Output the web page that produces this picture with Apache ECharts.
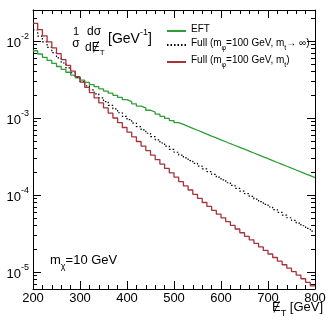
<!DOCTYPE html>
<html>
<head>
<meta charset="utf-8">
<script src="https://cdn.jsdelivr.net/npm/echarts@6/dist/echarts.min.js"></script>
<style>
html, body { margin: 0; padding: 0; background: #fff; }
#chart { width: 332px; height: 322px; }
</style>
</head>
<body>
<div id="chart"></div>
<script>
// bin edges of the MET histograms, 10 GeV bins from 200 to 800
const binEdges = []
for (let e = 200; e <= 800; e += 10) binEdges.push(e)

// 1/sigma dsigma/dMET per bin [GeV^-1]
const eftVals = [
    7.48e-3, 6.78e-3, 6.15e-3, 5.60e-3, 5.11e-3, 4.67e-3, 4.28e-3, 3.93e-3, 3.61e-3, 3.33e-3,
    3.11e-3, 2.91e-3, 2.72e-3, 2.55e-3, 2.39e-3, 2.24e-3, 2.10e-3, 1.97e-3, 1.85e-3, 1.73e-3,
    1.63e-3, 1.53e-3, 1.43e-3, 1.35e-3, 1.26e-3, 1.19e-3, 1.12e-3, 1.05e-3, 9.86e-4, 9.27e-4,
    8.73e-4, 8.24e-4, 7.78e-4, 7.35e-4, 6.93e-4, 6.55e-4, 6.18e-4, 5.83e-4, 5.51e-4, 5.20e-4,
    4.91e-4, 4.63e-4, 4.39e-4, 4.15e-4, 3.93e-4, 3.72e-4, 3.51e-4, 3.32e-4, 3.13e-4, 2.96e-4,
    2.80e-4, 2.64e-4, 2.50e-4, 2.36e-4, 2.23e-4, 2.11e-4, 1.99e-4, 1.88e-4, 1.78e-4, 1.68e-4
]
const fullInfVals = [
    1.39e-2, 1.16e-2, 9.77e-3, 8.28e-3, 7.05e-3, 6.03e-3, 5.18e-3, 4.47e-3, 3.87e-3, 3.37e-3,
    2.97e-3, 2.62e-3, 2.32e-3, 2.06e-3, 1.83e-3, 1.63e-3, 1.46e-3, 1.31e-3, 1.17e-3, 1.05e-3,
    9.51e-4, 8.57e-4, 7.74e-4, 7.00e-4, 6.34e-4, 5.74e-4, 5.21e-4, 4.73e-4, 4.30e-4, 3.90e-4,
    3.59e-4, 3.30e-4, 3.04e-4, 2.80e-4, 2.58e-4, 2.37e-4, 2.18e-4, 2.01e-4, 1.85e-4, 1.70e-4,
    1.57e-4, 1.44e-4, 1.33e-4, 1.22e-4, 1.12e-4, 1.04e-4, 9.57e-5, 8.85e-5, 8.17e-5, 7.53e-5,
    6.97e-5, 6.43e-5, 5.93e-5, 5.48e-5, 5.06e-5, 4.67e-5, 4.31e-5, 3.98e-5, 3.67e-5, 3.39e-5
]
const fullMtVals = [
    1.70e-2, 1.41e-2, 1.17e-2, 9.77e-3, 8.17e-3, 6.84e-3, 5.74e-3, 4.83e-3, 4.07e-3, 3.44e-3,
    2.93e-3, 2.50e-3, 2.14e-3, 1.83e-3, 1.57e-3, 1.35e-3, 1.16e-3, 1.00e-3, 8.69e-4, 7.53e-4,
    6.55e-4, 5.69e-4, 4.95e-4, 4.32e-4, 3.77e-4, 3.29e-4, 2.88e-4, 2.52e-4, 2.21e-4, 1.94e-4,
    1.70e-4, 1.49e-4, 1.31e-4, 1.16e-4, 1.02e-4, 9.02e-5, 7.98e-5, 7.10e-5, 6.32e-5, 5.64e-5,
    5.04e-5, 4.50e-5, 4.03e-5, 3.61e-5, 3.23e-5, 2.90e-5, 2.61e-5, 2.35e-5, 2.11e-5, 1.90e-5,
    1.71e-5, 1.54e-5, 1.38e-5, 1.24e-5, 1.12e-5, 1.01e-5, 9.06e-6, 8.15e-6, 7.33e-6, 6.59e-6
]

const seriesNames = ['EFT', 'Full (mφ=100 GeV, mt→ ∞)', 'Full (mφ=100 GeV, mt)']
const yTicks = [1e-5, 1e-4, 1e-3, 1e-2]
const Y_MIN = 6.0e-6
const Y_MAX = 2.53e-2

// minor log ticks 2..9 x 10^n
const yMinor = []
for (let p = -6; p <= -2; p++) {
    for (let k = 2; k <= 9; k++) {
        const v = k * Math.pow(10, p)
        if (v > Y_MIN && v < Y_MAX) yMinor.push(v)
    }
}

const FONT = "'Liberation Sans', Arial, sans-serif"

// histogram -> step points (left edge of each bin + closing point at 800)
function toSteps(vals) {
    return binEdges.map((e, i) => [e, vals[Math.min(i, vals.length - 1)]])
}

const chart = echarts.init(document.getElementById('chart'), null, { renderer: 'canvas' })

const xBase = {
    type: 'value',
    min: 200,
    max: 800,
    interval: 100,
    axisLine: { lineStyle: { color: '#000', width: 1 } },
    axisTick: { inside: true, length: 8, lineStyle: { color: '#000' } },
    minorTick: { show: true, splitNumber: 5, length: 4, lineStyle: { color: '#000' } },
    splitLine: { show: false },
    minorSplitLine: { show: false }
}

function yAxisDef(position, major) {
    return {
        type: 'log',
        logBase: 10,
        min: Y_MIN,
        max: Y_MAX,
        position: position,
        axisLine: { show: major, lineStyle: { color: '#000', width: 1 } },
        axisTick: {
            inside: true,
            length: major ? 8 : 4,
            customValues: major ? yTicks : yMinor,
            lineStyle: { color: '#000' }
        },
        axisLabel: {
            show: major && position === 'left',
            customValues: yTicks,
            margin: 4,
            formatter: (v) => '{b|10}{s|' + Math.round(Math.log10(v)) + '}',
            rich: {
                b: { fontSize: 13, fontFamily: FONT, color: '#000', lineHeight: 18, verticalAlign: 'bottom' },
                s: { fontSize: 9, fontFamily: FONT, color: '#000', verticalAlign: 'top' }
            }
        },
        splitLine: { show: false },
        minorTick: { show: false }
    }
}

const subRich = {
    a: { fontSize: 10, fontFamily: FONT, color: '#000', lineHeight: 14, verticalAlign: 'top' },
    u: { fontSize: 7, fontFamily: FONT, color: '#000', verticalAlign: 'bottom' }
}

const option = {
    animation: false,
    backgroundColor: '#fff',
    grid: { left: 33, right: 17, top: 10, bottom: 33, containLabel: false },
    legend: {
        orient: 'vertical',
        left: 161,
        top: 19,
        itemWidth: 19,
        itemHeight: 10,
        itemGap: 3,
        data: seriesNames,
        // hide the marker drawn on top of the line icon
        itemStyle: { opacity: 0 },
        formatter: (name) => {
            if (name === seriesNames[0]) return '{a|EFT}'
            if (name === seriesNames[1]) return '{a|Full (m}{u|φ}{a|=100 GeV, m}{u|t}{a|→ ∞)}'
            return '{a|Full (m}{u|φ}{a|=100 GeV, m}{u|t}{a|)}'
        },
        textStyle: { fontSize: 10, fontFamily: FONT, color: '#000', rich: subRich }
    },
    xAxis: [
        Object.assign({}, xBase, {
            position: 'bottom',
            axisLabel: { color: '#000', fontSize: 13, fontFamily: FONT, margin: 3 }
        }),
        Object.assign({}, xBase, { position: 'top', axisLabel: { show: false } })
    ],
    yAxis: [
        yAxisDef('left', true),
        yAxisDef('left', false),
        yAxisDef('right', true),
        yAxisDef('right', false)
    ],
    series: [
        {
            name: seriesNames[0],
            type: 'line',
            step: 'end',
            symbol: 'none',
            data: toSteps(eftVals),
            lineStyle: { color: '#2f9f35', width: 1.3 },
            itemStyle: { color: '#2f9f35' },
            z: 3
        },
        {
            name: seriesNames[1],
            type: 'line',
            step: 'end',
            symbol: 'none',
            data: toSteps(fullInfVals),
            lineStyle: { color: '#000', width: 1.2, type: [1.5, 2] },
            itemStyle: { color: '#000' },
            z: 4
        },
        {
            name: seriesNames[2],
            type: 'line',
            step: 'end',
            symbol: 'none',
            data: toSteps(fullMtVals),
            lineStyle: { color: '#a8323a', width: 1.3 },
            itemStyle: { color: '#a8323a' },
            z: 5
        }
    ],
    graphic: [
        // y-axis title drawn inside the frame
        { type: 'text', x: 76, y: 32, style: { text: '1', fontSize: 11, fontFamily: FONT, fill: '#000', align: 'center', verticalAlign: 'middle' } },
        { type: 'text', x: 76, y: 44, style: { text: 'σ', fontSize: 12, fontFamily: FONT, fill: '#000', align: 'center', verticalAlign: 'middle' } },
        { type: 'text', x: 94, y: 32, style: { text: 'dσ', fontSize: 12, fontFamily: FONT, fill: '#000', align: 'center', verticalAlign: 'middle' } },
        {
            type: 'text', x: 85, y: 42,
            style: {
                text: '{m|dɆ}{t|T}', fontFamily: FONT, fill: '#000',
                rich: { m: { fontSize: 12, verticalAlign: 'top', lineHeight: 15 }, t: { fontSize: 8, verticalAlign: 'bottom' } }
            }
        },
        {
            type: 'text', x: 108, y: 28,
            style: {
                text: '{m|[GeV}{s|-1}{m|]}', fontFamily: FONT, fill: '#000',
                rich: { m: { fontSize: 14, verticalAlign: 'bottom', lineHeight: 18 }, s: { fontSize: 9, verticalAlign: 'top' } }
            }
        },
        // m_chi label
        {
            type: 'text', x: 50, y: 254,
            style: {
                text: '{m|m}{c|χ}{m|=10 GeV}', fontFamily: FONT, fill: '#000',
                rich: { m: { fontSize: 13, verticalAlign: 'top', lineHeight: 17 }, c: { fontSize: 9, verticalAlign: 'bottom' } }
            }
        },
        // x-axis title
        {
            type: 'text', right: 9, top: 301,
            style: {
                text: '{m|Ɇ}{t|T}{m| [GeV]}', fontFamily: FONT, fill: '#000',
                rich: { m: { fontSize: 13, verticalAlign: 'top', lineHeight: 17 }, t: { fontSize: 9, verticalAlign: 'bottom' } }
            }
        }
    ]
}

chart.setOption(option)
</script>
</body>
</html>
